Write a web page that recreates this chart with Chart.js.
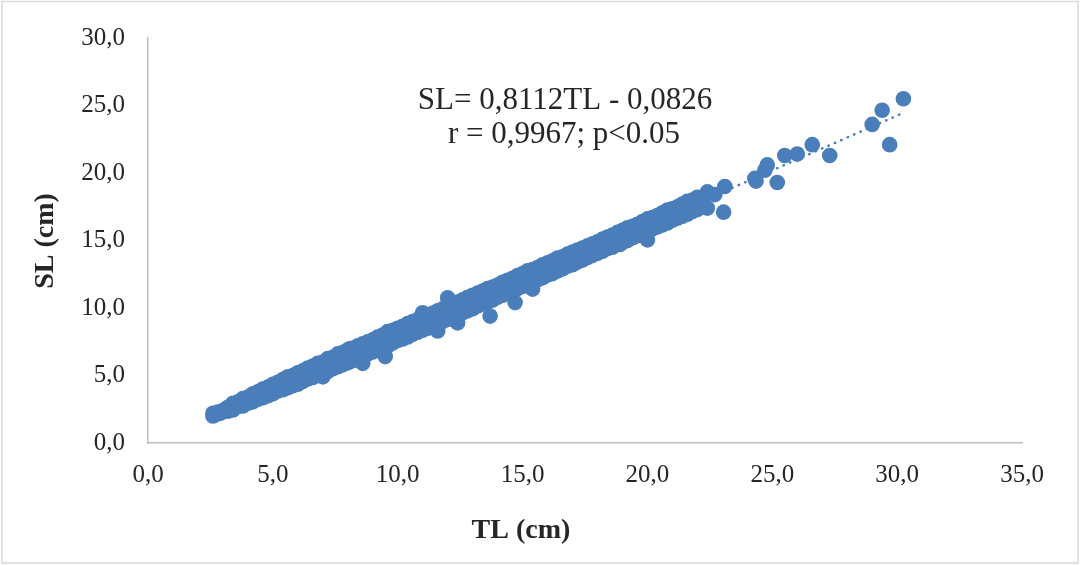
<!DOCTYPE html>
<html>
<head>
<meta charset="utf-8">
<title>SL vs TL</title>
<script src="https://cdn.jsdelivr.net/npm/chart.js@4/dist/chart.umd.min.js"></script>
<style>
  html, body { margin: 0; padding: 0; background: #fff; }
  canvas { display: block; }
</style>
</head>
<body>
<canvas id="myChart" width="1082" height="566"></canvas>
<script>
// measured fish: total length (TL) and standard length (SL), cm
const tlCm = [
  2.6, 2.6, 2.7, 2.8, 2.9, 3.0, 3.1, 3.2, 3.3, 3.4, 3.5, 3.6, 3.7, 3.8, 3.9,
  4.0, 4.1, 4.2, 4.3, 4.4, 4.5, 4.6, 4.7, 4.8, 4.9, 5.0, 5.1, 5.2, 5.3, 5.4,
  5.5, 5.6, 5.7, 5.8, 5.9, 6.0, 6.1, 6.2, 6.3, 6.4, 6.5, 6.6, 6.7, 6.8, 6.9,
  7.0, 7.0, 7.1, 7.2, 7.3, 7.4, 7.5, 7.6, 7.6, 7.7, 7.8, 7.9, 8.0, 8.1, 8.1,
  8.2, 8.3, 8.4, 8.5, 8.6, 8.6, 8.7, 8.8, 8.9, 9.0, 9.1, 9.2, 9.3, 9.4, 9.5,
  9.5, 9.6, 9.7, 9.8, 9.9, 10.0, 10.1, 10.2, 10.3, 10.4, 10.5, 10.6, 10.7, 10.8, 10.9,
  11.0, 11.0, 11.1, 11.2, 11.3, 11.4, 11.5, 11.6, 11.6, 11.7, 11.8, 11.9, 12.0, 12.0, 12.1,
  12.2, 12.3, 12.4, 12.4, 12.5, 12.6, 12.7, 12.8, 12.9, 13.0, 13.1, 13.2, 13.3, 13.4, 13.5,
  13.6, 13.7, 13.7, 13.8, 13.9, 14.0, 14.1, 14.2, 14.3, 14.4, 14.5, 14.6, 14.7, 14.7, 14.8,
  14.9, 15.0, 15.1, 15.2, 15.3, 15.4, 15.4, 15.5, 15.6, 15.7, 15.8, 15.9, 16.0, 16.2, 16.4,
  16.5, 16.7, 16.9, 17.0, 17.2, 17.4, 17.6, 17.8, 18.0, 18.0, 18.2, 18.4, 18.6, 18.8, 18.9,
  19.0, 19.2, 19.4, 19.6, 19.8, 20.0, 20.0, 20.2, 20.4, 20.6, 20.8, 21.0, 21.2, 21.4, 21.6,
  21.8, 22.0, 22.2, 22.4, 22.4, 22.7, 23.05, 23.1, 24.3, 24.35, 24.7, 24.8, 25.2, 25.5, 26.0,
  26.6, 27.3, 29.0, 29.4, 29.7, 30.25,
  // upper and lower edges of the main cloud
  3.2, 3.2, 3.6, 3.6, 4.0, 4.0, 4.4, 4.4, 4.8, 4.8, 5.2, 5.2, 5.6, 5.6, 6.0,
  6.0, 6.4, 6.4, 6.8, 6.8, 7.2, 7.2, 7.6, 7.6, 8.0, 8.0, 8.4, 8.4, 8.8, 8.8,
  9.2, 9.2, 9.6, 9.6, 10.0, 10.0, 10.4, 10.4, 10.8, 10.8, 11.2, 11.2, 11.6, 11.6, 12.0,
  12.0, 12.4, 12.4, 12.8, 12.8, 13.2, 13.2, 13.6, 13.6, 14.0, 14.0, 14.4, 14.4, 14.8, 14.8,
  15.2, 15.2, 15.6, 15.6, 16.0, 16.0, 16.4, 16.4, 16.8, 16.8, 17.2, 17.2, 17.6, 17.6, 18.0,
  18.4, 18.4, 18.8, 18.8, 19.2, 19.2, 19.6, 19.6, 20.0, 20.0, 20.4, 20.4, 20.8, 20.8, 21.2,
  21.2, 21.6, 21.6, 22.0, 22.0,
  3.4, 3.4, 3.8, 3.8, 4.2, 4.2, 4.6, 4.6, 5.0, 5.0, 5.4, 5.4, 5.8, 5.8, 6.2,
  6.2, 6.6, 6.6, 7.0, 7.0, 7.4, 7.4, 7.8, 7.8, 8.2, 8.2, 8.6, 8.6, 9.0, 9.0,
  9.4, 9.4, 9.8, 9.8, 10.2, 10.2, 10.6, 10.6, 11.0, 11.0, 11.4, 11.4, 11.8, 11.8, 12.2,
  12.2, 12.6, 12.6, 13.0, 13.0, 13.4, 13.4, 13.8, 13.8, 14.2, 14.2, 14.6, 14.6, 15.0, 15.0,
  15.4, 15.4, 15.8, 15.8, 16.2, 16.2, 16.6, 16.6, 17.0, 17.0, 17.4, 17.4, 17.8, 17.8, 18.2,
  18.2, 18.6, 18.6, 19.0, 19.0, 19.4, 19.4, 19.8, 19.8, 20.2, 20.2, 20.6, 20.6, 21.0, 21.0,
  21.4, 21.4, 21.8, 21.8
];
const slCm = [
  2.0, 2.2, 2.1, 2.3, 2.2, 2.4, 2.5, 2.5, 2.7, 2.6, 2.8, 2.9, 3.0, 2.9, 3.1,
  3.3, 3.2, 3.4, 3.5, 3.4, 3.6, 3.8, 3.7, 3.9, 3.8, 4.0, 4.2, 4.1, 4.3, 4.4,
  4.3, 4.6, 4.5, 4.7, 4.9, 4.8, 4.9, 5.1, 5.0, 5.2, 5.4, 5.2, 5.5, 5.4, 5.6,
  5.7, 4.9, 5.6, 5.9, 5.8, 6.0, 6.1, 6.6, 6.0, 6.2, 6.3, 6.5, 6.4, 7.0, 6.5,
  6.7, 6.6, 6.9, 6.8, 5.9, 7.0, 7.1, 7.0, 7.3, 7.2, 7.4, 7.5, 7.4, 7.7, 6.4,
  7.6, 7.8, 7.9, 7.8, 8.0, 8.1, 8.2, 8.3, 8.2, 8.5, 8.4, 8.6, 8.7, 8.8, 8.7,
  9.65, 8.9, 9.0, 9.1, 9.0, 9.3, 9.2, 8.3, 9.4, 9.5, 9.6, 9.5, 10.75, 9.7, 9.8,
  9.9, 10.0, 8.9, 10.1, 10.0, 10.2, 10.3, 10.4, 10.3, 10.5, 10.6, 10.7, 10.8, 10.9, 10.8,
  11.0, 9.4, 11.1, 11.2, 11.1, 11.3, 11.4, 11.5, 11.6, 11.5, 11.7, 11.8, 10.4, 11.9, 12.0,
  12.1, 12.0, 12.2, 12.3, 12.4, 11.4, 12.5, 12.4, 12.6, 12.7, 12.8, 12.9, 12.9, 13.1, 13.2,
  13.4, 13.5, 13.7, 13.8, 13.9, 14.1, 14.2, 14.4, 14.9, 14.5, 14.7, 14.9, 15.0, 15.2, 14.7,
  15.4, 15.5, 15.7, 15.8, 16.0, 15.05, 16.2, 16.3, 16.5, 16.7, 16.8, 17.0, 17.2, 17.3, 17.5,
  17.6, 17.8, 18.0, 17.4, 18.6, 18.4, 17.1, 19.0, 19.6, 19.4, 20.2, 20.6, 19.3, 21.3, 21.4,
  22.1, 21.3, 23.6, 24.65, 22.1, 25.5,
  2.65, 2.35, 3.05, 2.7, 3.4, 2.95, 3.8, 3.25, 4.15, 3.5, 4.5, 3.85, 4.9, 4.1, 5.2,
  4.35, 5.55, 4.75, 5.9, 5.0, 6.25, 5.3, 6.5, 5.65, 6.9, 5.95, 7.2, 6.3, 7.5, 6.6,
  7.85, 6.95, 8.25, 7.2, 8.5, 7.6, 8.85, 7.85, 9.15, 8.2, 9.5, 8.5, 9.8, 8.9, 10.15,
  9.15, 10.45, 9.5, 10.8, 9.8, 11.1, 10.15, 11.45, 10.45, 11.7, 10.8, 12.05, 11.15, 12.4, 11.45,
  12.75, 11.75, 13.0, 12.1, 13.35, 12.45, 13.7, 12.75, 14.0, 13.1, 14.3, 13.4, 14.6, 13.75, 14.05,
  15.25, 14.4, 15.6, 14.7, 15.95, 15.0, 16.2, 15.35, 16.6, 15.65, 16.85, 16.0, 17.25, 16.3, 17.5,
  16.65, 17.9, 16.95, 18.2, 17.3,
  2.95, 2.45, 3.3, 2.75, 3.65, 3.05, 4.0, 3.35, 4.35, 3.65, 4.7, 3.95, 5.0, 4.25, 5.35,
  4.55, 5.7, 4.85, 6.0, 5.2, 6.35, 5.5, 6.7, 5.8, 7.0, 6.1, 7.35, 6.45, 7.65, 6.75,
  8.0, 7.1, 8.35, 7.4, 8.65, 7.7, 9.0, 8.05, 9.3, 8.35, 9.6, 8.7, 9.95, 9.0, 10.3,
  9.35, 10.6, 9.65, 10.95, 9.95, 11.25, 10.3, 11.55, 10.6, 11.9, 10.95, 12.2, 11.3, 12.55, 11.6,
  12.85, 11.9, 13.2, 12.25, 13.5, 12.55, 13.8, 12.9, 14.15, 13.2, 14.45, 13.55, 14.75, 13.9, 15.1,
  14.2, 15.4, 14.5, 15.75, 14.85, 16.05, 15.2, 16.4, 15.5, 16.7, 15.85, 17.05, 16.15, 17.35, 16.5,
  17.7, 16.8, 18.0, 17.15
];

// linear fit shown on the chart
const fitSlope = 0.8112;
const fitIntercept = -0.0826;
const fitRange = [2.6, 30.1];
const fitLabel = ["SL= 0,8112TL - 0,0826", "r = 0,9967; p<0.05"];

const xTickValues = [0, 5, 10, 15, 20, 25, 30, 35];
const yTickValues = [0, 5, 10, 15, 20, 25, 30];
const xTitle = "TL (cm)";
const yTitle = "SL (cm)";

const blue = "#4a7ebb";
const axisGray = "#bfbfbf";
const textColor = "#262626";
const serif = "'Liberation Serif', 'Times New Roman', serif";

const points = tlCm.map((t, i) => ({ x: t, y: slCm[i] }));
const fitPoints = fitRange.map(t => ({ x: t, y: fitSlope * t + fitIntercept }));

function commaLabel(v) {
  return v.toFixed(1).replace(".", ",");
}

// frame, axis titles and the regression text
const decorations = {
  id: "decorations",
  beforeDraw(chart) {
    const ctx = chart.ctx;
    ctx.save();
    ctx.strokeStyle = "#d9d9d9";
    ctx.lineWidth = 1.5;
    ctx.strokeRect(2, 1.5, 1076, 561.5);
    ctx.restore();
  },
  afterDraw(chart) {
    const ctx = chart.ctx;
    ctx.save();
    ctx.fillStyle = textColor;
    ctx.textAlign = "center";
    ctx.textBaseline = "middle";

    ctx.font = "bold 28px " + serif;
    ctx.fillText(xTitle, 521, 531);

    ctx.save();
    ctx.translate(46, 241);
    ctx.rotate(-Math.PI / 2);
    ctx.fillText(yTitle, 0, 0);
    ctx.restore();

    ctx.font = "31px " + serif;
    ctx.fillText(fitLabel[0], 565, 101);
    ctx.fillText(fitLabel[1], 564, 135);
    ctx.restore();
  }
};

const ctx = document.getElementById("myChart").getContext("2d");
const myChart = new Chart(ctx, {
  type: "scatter",
  data: {
    datasets: [
      {
        label: "SL",
        data: points,
        backgroundColor: blue,
        borderColor: blue,
        borderWidth: 0,
        pointRadius: 7.8,
        order: 2,
      },
      {
        label: "Linear (SL)",
        data: fitPoints,
        showLine: true,
        borderColor: blue,
        borderWidth: 2.5,
        borderDash: [0.5, 6.5],
        borderCapStyle: "round",
        pointRadius: 0,
        fill: false,
        order: 1,
      },
    ],
  },
  options: {
    responsive: false,
    animation: false,
    devicePixelRatio: 1,
    layout: {
      padding: { left: 0, right: 60, top: 34, bottom: 0 },
    },
    plugins: {
      legend: { display: false },
      tooltip: { enabled: false },
    },
    scales: {
      x: {
        type: "linear",
        min: 0,
        max: 35,
        afterBuildTicks: s => { s.ticks = xTickValues.map(v => ({ value: v })); },
        afterFit: s => { s.height = 123; },
        grid: { display: false, drawTicks: false },
        border: { display: true, color: axisGray, width: 1.5 },
        ticks: {
          padding: 17,
          color: textColor,
          font: { family: serif, size: 25 },
          callback: commaLabel,
        },
      },
      y: {
        type: "linear",
        min: 0,
        max: 30,
        afterBuildTicks: s => { s.ticks = yTickValues.map(v => ({ value: v })); },
        afterFit: s => { s.width = 148; },
        grid: { display: false, drawTicks: false },
        border: { display: true, color: axisGray, width: 1.5 },
        ticks: {
          padding: 23,
          color: textColor,
          font: { family: serif, size: 25 },
          callback: commaLabel,
        },
      },
    },
  },
  plugins: [decorations],
});
</script>
</body>
</html>
